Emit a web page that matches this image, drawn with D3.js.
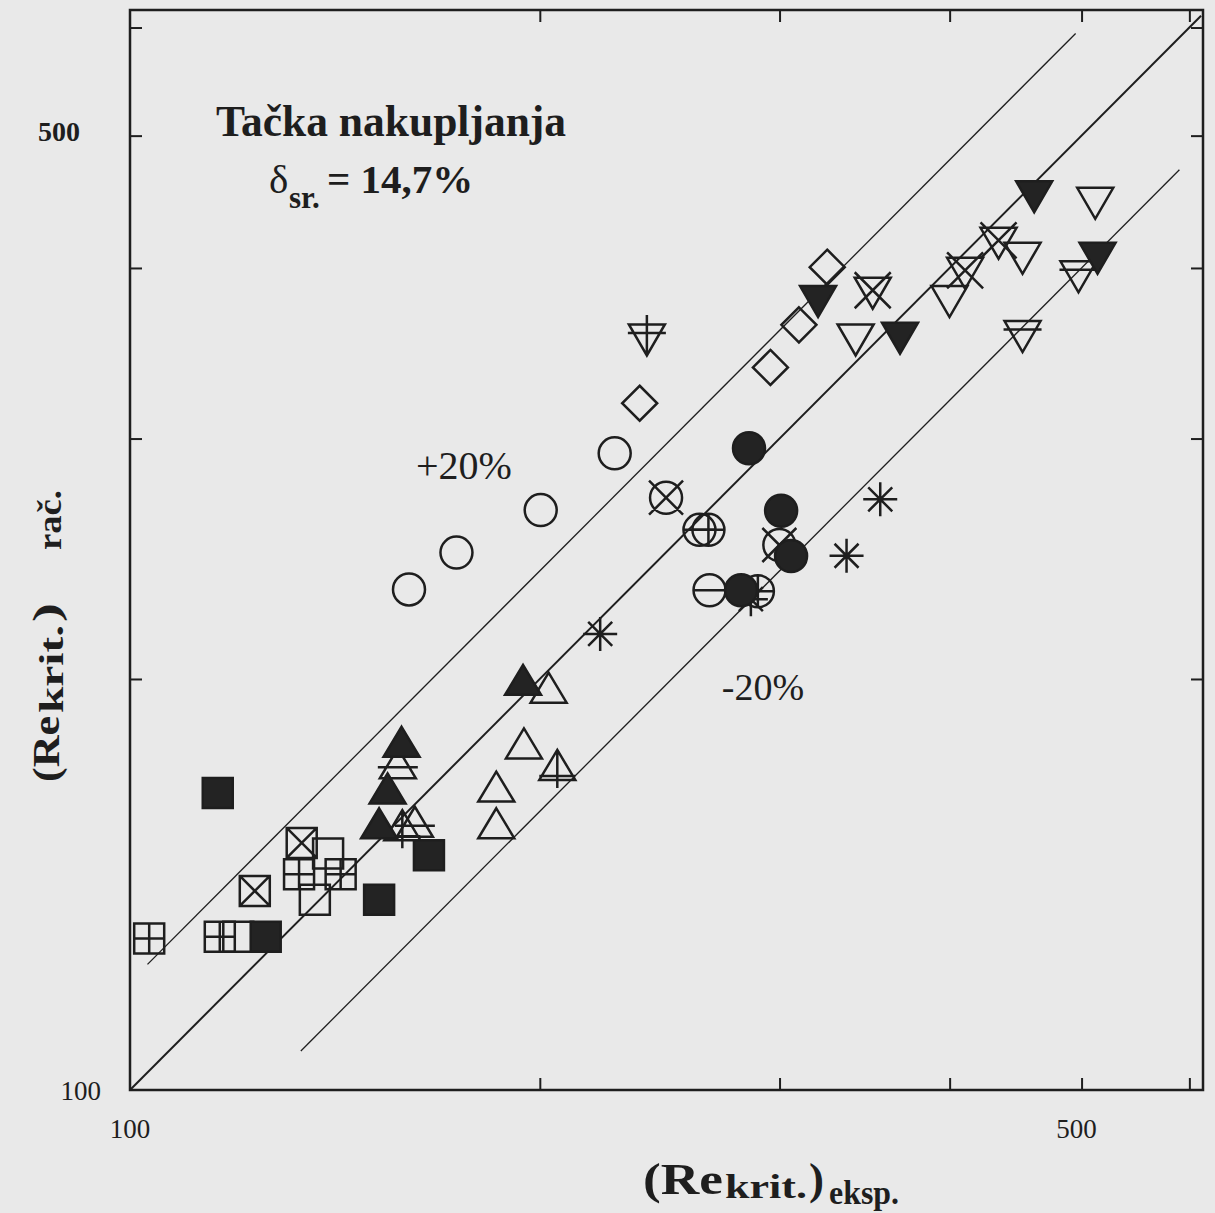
<!DOCTYPE html>
<html>
<head>
<meta charset="utf-8">
<script src="https://cdnjs.cloudflare.com/ajax/libs/d3/7.8.5/d3.min.js"></script>
<style>
body { margin: 0; background: #e9e9e9; }
svg { display: block; }
text { font-family: "Liberation Serif", "Times New Roman", serif; fill: #1e1e1e; }
</style>
</head>
<body>
<div class="canvas"></div>
<script>
// points as [Re eksp., Re rač.]
const filledSquares = [[116, 165], [165.8, 148.6], [152.4, 137.8], [125.8, 129.5]];
const plusSquares = [[103.3, 129.1], [116.4, 129.5], [133.1, 143.9], [142.8, 143.9]];
const openSquares = [[120.1, 129.5], [139.8, 149.0], [136.7, 137.8]];
const crossSquares = [[133.7, 151.7], [123.5, 139.9]];
const filledUp = [[158.3, 179.9], [154.6, 166.3], [152.4, 156.8], [194.4, 199.7]];
const openUp = [[203, 197.1], [194.7, 179.4], [185.8, 166.8], [185.8, 156.8]];
const barUp = [[157.3, 173.5], [161.9, 157.2]];
const plusUp = [[158.5, 156.3], [206, 173]];
const openCircles = [[227, 292.6], [200.3, 265.9], [173.7, 247.5], [160.3, 232.6]];
const crossCircles = [[247.6, 271.5], [299.9, 250.7]];
const barCircles = [[262, 257.2], [266.5, 232.3]];
const plusCircles = [[266, 257.2], [289.2, 231.9]];
const filledCircles = [[284.9, 295.1], [300.8, 265.6], [305.9, 246.1], [281.1, 232.3]];
const stars = [[221.5, 215.8], [355.7, 270.8], [336, 246.2], [285.8, 228.8]];
const diamonds = [[236.8, 318.4], [295.4, 338.2], [310, 363.4], [325.2, 400.5]];
const filledDown = [[320.2, 378], [367.8, 355.3], [461.5, 451], [513.7, 406.6]];
const openDown = [[341.2, 354.3], [399.9, 378], [452.5, 406.6], [511.7, 446.1]];
const crossDown = [[351.2, 383.3], [410.6, 396.4], [434.5, 417]];
const plusDown = [[239.7, 354.3]];
const barDown = [[497.4, 394.1], [452.5, 356.3]];

// y = k * x lines and their x extents
const bandFactors = [1.2, 1, 0.8];
const bandRanges = [[103, 495], [100, 612], [133.5, 590]];
const tickValues = [200, 300, 400, 500, 600];

const width = 1215, height = 1213;
const frame = {left: 130, right: 1203, top: 10, bottom: 1090};
const ink = '#1e1e1e';

const x = d3.scaleLog().domain([100, 614]).range([frame.left, frame.right]);
const y = d3.scaleLog().domain([100, 618]).range([frame.bottom, frame.top]);

const svg = d3.select('.canvas')
    .append('svg')
    .attr('width', width)
    .attr('height', height);

svg.append('rect')
    .attr('width', width)
    .attr('height', height)
    .attr('fill', '#e9e9e9');

// ticks point inward on all four sides
const tickLen = 12;
const axes = [
    [d3.axisTop(x), `translate(0, ${frame.bottom})`],
    [d3.axisBottom(x), `translate(0, ${frame.top})`],
    [d3.axisRight(y), `translate(${frame.left}, 0)`],
    [d3.axisLeft(y), `translate(${frame.right}, 0)`]
];
axes.forEach(([axis, t]) => {
    const g = svg.append('g').attr('transform', t)
        .call(axis.tickValues(tickValues).tickSize(tickLen).tickFormat(''));
    g.select('.domain').remove();
    g.selectAll('line').attr('stroke', ink).attr('stroke-width', 2);
});

svg.append('rect')
    .attr('x', frame.left).attr('y', frame.top)
    .attr('width', frame.right - frame.left).attr('height', frame.bottom - frame.top)
    .attr('fill', 'none')
    .attr('stroke', ink)
    .attr('stroke-width', 2.5);

// deviation lines
const line = d3.line().x(d => x(d[0])).y(d => y(d[1]));
bandFactors.forEach((k, i) => {
    const [a, b] = bandRanges[i];
    svg.append('path')
        .attr('d', line([[a, k * a], [b, k * b]]))
        .attr('fill', 'none')
        .attr('stroke', ink)
        .attr('stroke-width', k === 1 ? 2 : 1.3);
});

// marker shapes
const sq = 'M-15,-15H15V15H-15Z';
const up = 'M0,-15L18,15H-18Z';
const down = 'M-18,-15.5H18L0,15.5Z';
const circ = 'M16,0A16,16 0 1 1 -16,0A16,16 0 1 1 16,0Z';
const shapes = {
    square: sq,
    squarePlus: sq + 'M0,-15V15M-15,0H15',
    squareCross: sq + 'M-15,-15L15,15M15,-15L-15,15',
    up: up,
    upBar: up + 'M-20,4H20',
    upPlus: up + 'M0,-15V23M-18,11H18',
    circle: circ,
    circleCross: circ + 'M-17,-17L17,17M17,-17L-17,17',
    circlePlus: circ + 'M0,-16V16M-16,0H16',
    circleBar: circ + 'M-16,0H16',
    star: 'M0,-17V17M-17,0H17M-12,-12L12,12M12,-12L-12,12',
    diamond: 'M0,-17.5L17.5,0L0,17.5L-17.5,0Z',
    down: down,
    downCross: down + 'M-18,-21L18,15M18,-21L-18,15',
    downPlus: down + 'M0,-25V15.5M-19,-7H19',
    downBar: down + 'M-19,-7H19'
};

const series = [
    [openSquares, 'square', false],
    [plusSquares, 'squarePlus', false],
    [crossSquares, 'squareCross', false],
    [openUp, 'up', false],
    [barUp, 'upBar', false],
    [plusUp, 'upPlus', false],
    [openCircles, 'circle', false],
    [crossCircles, 'circleCross', false],
    [barCircles, 'circleBar', false],
    [plusCircles, 'circlePlus', false],
    [stars, 'star', false],
    [diamonds, 'diamond', false],
    [openDown, 'down', false],
    [crossDown, 'downCross', false],
    [plusDown, 'downPlus', false],
    [barDown, 'downBar', false],
    [filledSquares, 'square', true],
    [filledUp, 'up', true],
    [filledCircles, 'circle', true],
    [filledDown, 'down', true]
];

series.forEach(([data, shape, filled]) => {
    svg.append('g').selectAll('path')
        .data(data)
        .enter()
        .append('path')
            .attr('d', shapes[shape])
            .attr('transform', d => `translate(${x(d[0])}, ${y(d[1])})`)
            .attr('fill', filled ? '#232323' : 'none')
            .attr('stroke', ink)
            .attr('stroke-width', 2.5)
            .attr('stroke-linejoin', 'miter');
});

// texts
svg.append('text')
    .attr('x', 391).attr('y', 136)
    .attr('text-anchor', 'middle')
    .attr('font-size', 43.5).attr('font-weight', 'bold')
    .text('Tačka nakupljanja');

const delta = svg.append('text').attr('y', 193).attr('font-size', 41);
delta.append('tspan').attr('x', 269).text('δ');
delta.append('tspan').attr('x', 289).attr('font-size', 31).attr('font-weight', 'bold')
    .attr('dy', 15).text('sr.');
delta.append('tspan').attr('x', 327).attr('font-weight', 'bold').attr('dy', -15)
    .text('= 14,7%');

svg.append('text').attr('x', 416).attr('y', 479).attr('font-size', 40).text('+20%');
svg.append('text').attr('x', 763).attr('y', 700).attr('font-size', 38)
    .attr('text-anchor', 'middle').text('-20%');

// tick labels
svg.append('text').attr('x', 80).attr('y', 141).attr('font-size', 28)
    .attr('font-weight', 'bold').attr('text-anchor', 'end').text('500');
svg.append('text').attr('x', 101).attr('y', 1100).attr('font-size', 27)
    .attr('text-anchor', 'end').text('100');
svg.append('text').attr('x', x(100)).attr('y', 1138).attr('font-size', 27)
    .attr('text-anchor', 'middle').text('100');
svg.append('text').attr('x', x(500) - 5).attr('y', 1138).attr('font-size', 27)
    .attr('text-anchor', 'middle').text('500');

// axis titles, built from pieces: [text, start, length, baseline shift, size]
function title(g, parts) {
    parts.forEach(([t, start, len, shift, size]) => {
        g.append('text')
            .attr('x', start).attr('y', shift)
            .attr('font-size', size).attr('font-weight', 'bold')
            .attr('textLength', len).attr('lengthAdjust', 'spacingAndGlyphs')
            .text(t);
    });
}

title(svg.append('g').attr('transform', 'translate(643, 1194)'), [
    ['(Re', 0, 80, 0, 44],
    ['krit.', 82, 82, 4, 34],
    [')', 166, 15, 0, 44],
    ['eksp.', 186, 70, 10, 33]
]);

title(svg.append('g').attr('transform', 'translate(59, 782) rotate(-90)'), [
    ['(Re', 0, 66, 0, 38],
    ['krit.', 69, 88, 4, 34],
    [')', 160, 19, 0, 38],
    ['rač.', 232, 60, 2, 33]
]);
</script>
</body>
</html>
